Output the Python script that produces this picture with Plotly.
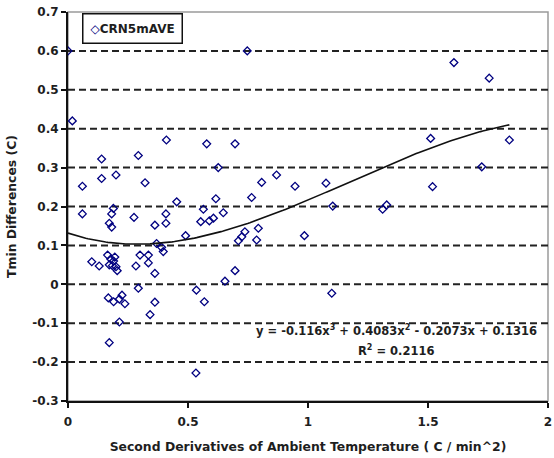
import numpy as np
import plotly.graph_objects as go

# Second derivative of ambient temperature (C/min^2) and Tmin difference (C)
deriv_x = [
    0.0, 0.018, 0.747, 0.41, 0.14, 0.293, 0.06, 0.14, 0.20, 0.321,
    0.453, 0.06, 0.189, 0.182, 0.172, 0.182, 0.275, 0.408, 0.408, 0.362,
    0.49, 0.369, 0.39, 0.397, 0.099, 0.13,
    0.165, 0.178, 0.19, 0.185, 0.2, 0.205, 0.172, 0.195,
    0.30, 0.335, 0.283, 0.335, 0.362, 0.293, 0.168, 0.19, 0.214, 0.225,
    0.237, 0.362, 0.342, 0.214, 0.172,
    0.578, 0.696, 0.626, 0.869, 0.807, 0.946, 0.616, 0.765, 0.564, 0.647,
    0.553, 0.589, 0.606, 0.793, 0.737, 0.724, 0.71, 0.786, 0.985, 0.696,
    0.654, 0.535, 0.568, 0.533,
    1.608, 1.755, 1.839, 1.511, 1.724, 1.519, 1.075, 1.103, 1.311, 1.328,
    1.099,
]
tmin_diff = [
    0.60, 0.42, 0.60, 0.371, 0.322, 0.331, 0.252, 0.272, 0.281, 0.261,
    0.212, 0.181, 0.195, 0.181, 0.157, 0.147, 0.172, 0.181, 0.157, 0.152,
    0.125, 0.105, 0.095, 0.084, 0.058, 0.047,
    0.075, 0.065, 0.06, 0.048, 0.045, 0.035, 0.05, 0.07,
    0.075, 0.075, 0.047, 0.055, 0.028, -0.01, -0.035, -0.045, -0.038, -0.028,
    -0.05, -0.046, -0.078, -0.097, -0.15,
    0.361, 0.361, 0.30, 0.281, 0.262, 0.252, 0.22, 0.223, 0.193, 0.184,
    0.161, 0.163, 0.170, 0.144, 0.135, 0.122, 0.112, 0.114, 0.125, 0.035,
    0.008, -0.015, -0.045, -0.228,
    0.57, 0.53, 0.371, 0.375, 0.302, 0.251, 0.26, 0.201, 0.193, 0.204,
    -0.023,
]
series_name = "CRN5mAVE"

# Cubic trendline coefficients (highest power first) and its R^2
trend_coef = [-0.116, 0.4083, -0.2073, 0.1316]
r_squared = 0.2116

x_ticks = [0, 0.5, 1, 1.5, 2]
x_tick_text = ["0", "0.5", "1", "1.5", "2"]
y_ticks = [-0.3, -0.2, -0.1, 0, 0.1, 0.2, 0.3, 0.4, 0.5, 0.6, 0.7]
y_tick_text = ["-0.3", "-0.2", "-0.1", "0", "0.1", "0.2", "0.3", "0.4", "0.5", "0.6", "0.7"]
grid_y = [-0.2, -0.1, 0, 0.1, 0.2, 0.3, 0.4, 0.5, 0.6]

FONT = "DejaVu Sans"
TEXT = "#1e1e1e"
NAVY = "#000080"

fx = np.linspace(min(deriv_x), max(deriv_x), 200)
fy = np.polyval(trend_coef, fx)

fig = go.Figure()
fig.add_trace(go.Scatter(
    x=deriv_x, y=tmin_diff, mode="markers", name=series_name, showlegend=False,
    marker=dict(symbol="diamond-open", size=6, color=NAVY, line=dict(width=1.3, color=NAVY)),
))
fig.add_trace(go.Scatter(
    x=fx, y=fy, mode="lines", showlegend=False,
    line=dict(color="#111111", width=1.6),
))

shapes = [dict(type="rect", xref="paper", yref="paper", x0=0, x1=1, y0=0, y1=1,
               line=dict(color="#9a9a9a", width=1.5), layer="below")]
for g in grid_y:
    shapes.append(dict(type="line", xref="paper", yref="y", x0=0, x1=1, y0=g, y1=g,
                       line=dict(color="#222222", width=2, dash="7px,4px"), layer="below"))

a3, a2, a1, a0 = trend_coef
eq = f"y = {a3:g}x<sup>3</sup> + {a2:g}x<sup>2</sup> - {abs(a1):g}x + {a0:g}"
bold = dict(family=FONT, size=11.5, color=TEXT, weight="bold")

fig.update_layout(
    width=554, height=458,
    margin=dict(l=68, r=6, t=12, b=57),
    paper_bgcolor="white", plot_bgcolor="white",
    font=dict(family=FONT, size=11, color=TEXT),
    shapes=shapes,
    showlegend=False,
    annotations=[
        # series key box
        dict(x=0.029, y=0.998, xref="paper", yref="paper", xanchor="left", yanchor="top",
             text=f"<span style='color:{NAVY}'>\u25c7</span>{series_name}",
             showarrow=False, align="left",
             font=dict(family=FONT, size=12, color=TEXT, weight="bold"),
             bgcolor="white", bordercolor="#111111", borderwidth=1.5, borderpad=7),
        dict(x=1.367, y=-0.119, xref="x", yref="y", text=eq, showarrow=False, font=bold),
        dict(x=1.367, y=-0.169, xref="x", yref="y",
             text=f"R<sup>2</sup> = {r_squared:g}", showarrow=False, font=bold),
    ],
)
axis_common = dict(
    showline=True, linecolor="#111111", linewidth=2,
    ticks="outside", ticklen=5, tickwidth=2, tickcolor="#111111",
    showgrid=False, zeroline=False, automargin=False,
    tickfont=dict(family=FONT, size=12, color=TEXT, weight="bold"),
)
fig.update_xaxes(
    range=[0, 2], tickvals=x_ticks, ticktext=x_tick_text, **axis_common,
    ticklabelstandoff=4,
    title=dict(text="Second Derivatives of Ambient Temperature ( C / min^2)",
               font=dict(family=FONT, size=12.4, color=TEXT, weight="bold"), standoff=14),
)
fig.update_yaxes(
    range=[-0.3, 0.7], tickvals=y_ticks, ticktext=y_tick_text, **axis_common,
    title=dict(text="Tmin Differences (C)",
               font=dict(family=FONT, size=12.4, color=TEXT, weight="bold"), standoff=13),
)

fig.write_html("out.html")
